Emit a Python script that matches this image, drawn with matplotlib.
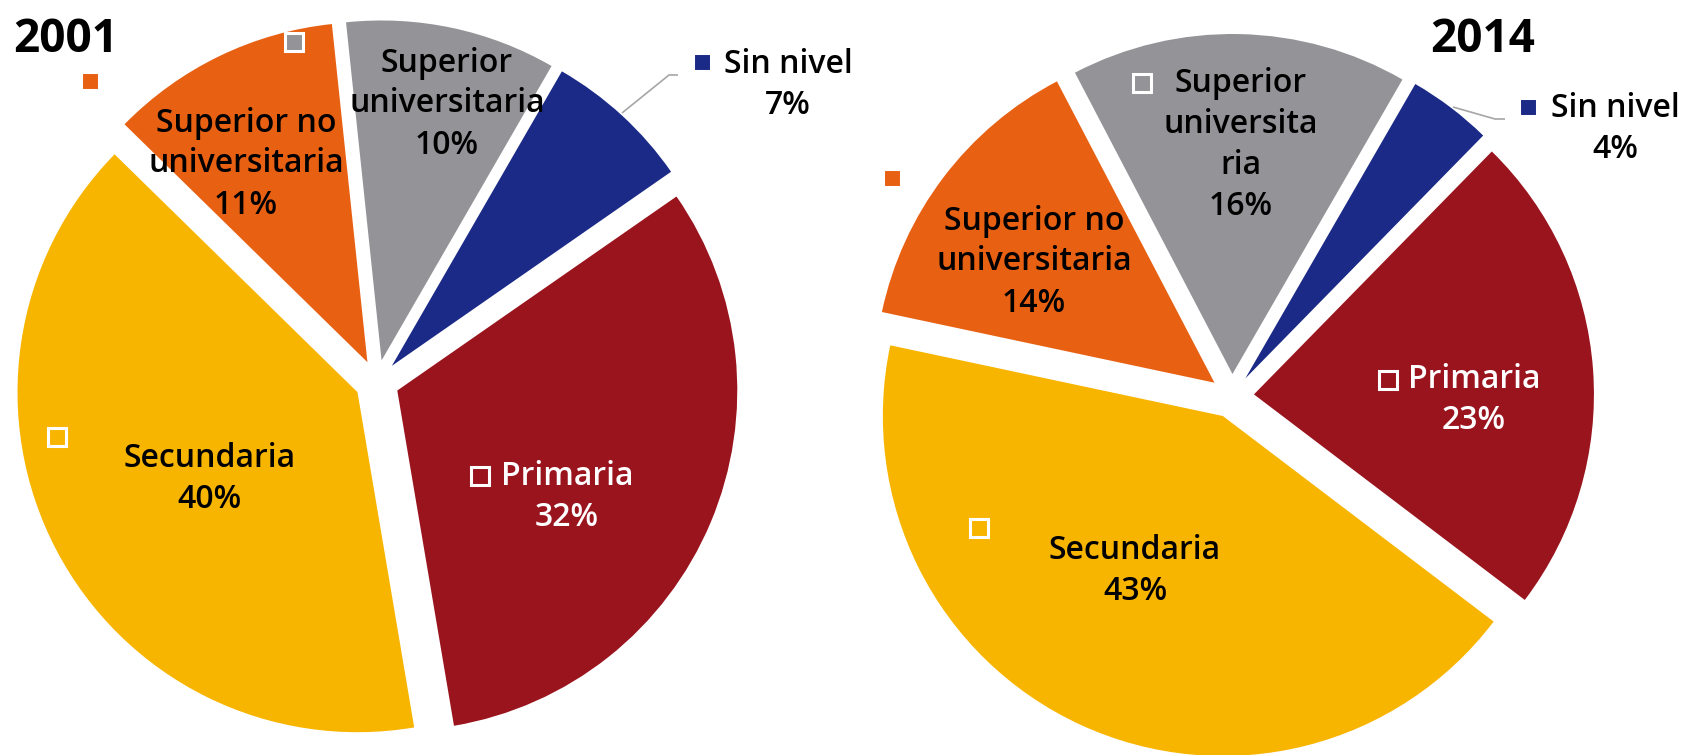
import matplotlib
matplotlib.use("Agg")
import matplotlib.pyplot as plt

# ---- data ----
categories = ["Sin nivel", "Primaria", "Secundaria",
              "Superior no universitaria", "Superior universitaria"]
years = ["2001", "2014"]
values_2001 = [7, 32, 40, 11, 10]
values_2014 = [4, 23, 43, 14, 16]
labels_2001 = ["Sin nivel", "Primaria", "Secundaria",
               "Superior no\nuniversitaria", "Superior\nuniversitaria"]
labels_2014 = ["Sin nivel", "Primaria", "Secundaria",
               "Superior no\nuniversitaria", "Superior\nuniversita\nria"]

colors = ["#1B2A86", "#9A141E", "#F8B500", "#E86012", "#949398"]
text_colors = ["black", "white", "black", "black", "black"]

W, H = 1686, 755
FONT = "Open Sans"

fig = plt.figure(figsize=(W / 100, H / 100), dpi=100)
ax = fig.add_axes([0, 0, 1, 1])


def P(x, y_img):
    return (x, H - y_img)


R = 340
EXPL = 22

# layout (pixel positions, image coords)
layouts = {
    "2001": dict(
        center=(377, 382),
        title=(13, 52),
        text=[(788, 85), (567, 497), (210, 479), (246, 164), (447, 104)],
        marker=[(702, 62), (480, 476), (57, 437), (90, 81), (294, 42)],
        leader=[(622, 113), (669, 75), (678, 75)],
    ),
    "2014": dict(
        center=(1232, 396),
        title=(1430, 52),
        text=[(1615, 129), (1474, 400), (1135, 571), (1034, 262), (1241, 145)],
        marker=[(1528, 107), (1388, 380), (979, 528), (892, 178), (1142, 83)],
        leader=[(1453, 107), (1495, 119), (1505, 119)],
    ),
}

for year, vals, labs in [("2001", values_2001, labels_2001),
                         ("2014", values_2014, labels_2014)]:
    lay = layouts[year]
    ax.pie(vals, colors=colors, explode=[EXPL] * len(vals), radius=R,
           center=P(*lay["center"]), startangle=60, counterclock=False,
           wedgeprops=dict(linewidth=0))
    # leader line for the outside label
    lx = [p[0] for p in lay["leader"]]
    ly = [H - p[1] for p in lay["leader"]]
    ax.plot(lx, ly, color="#A6A6A6", lw=1.2, solid_capstyle="butt")
    for i, (v, lab) in enumerate(zip(vals, labs)):
        tx, ty = P(*lay["text"][i])
        ax.text(tx, ty, f"{lab}\n{v}%", ha="center", va="center",
                fontsize=23, color=text_colors[i], family=FONT,
                fontweight="semibold", linespacing=1.32,
                multialignment="center")
        mx, my = P(*lay["marker"][i])
        ax.plot(mx, my, marker="s", ms=12.5, mfc=colors[i], mec="white",
                mew=2.2, ls="none")
    tx, ty = P(*lay["title"])
    ax.text(tx, ty, year, ha="left", va="baseline", fontsize=33,
            fontweight="bold", family=FONT, color="black")

ax.set_xlim(0, W)
ax.set_ylim(0, H)
ax.set_aspect("auto")
ax.axis("off")

fig.savefig("out.png", dpi=100, facecolor="white")
